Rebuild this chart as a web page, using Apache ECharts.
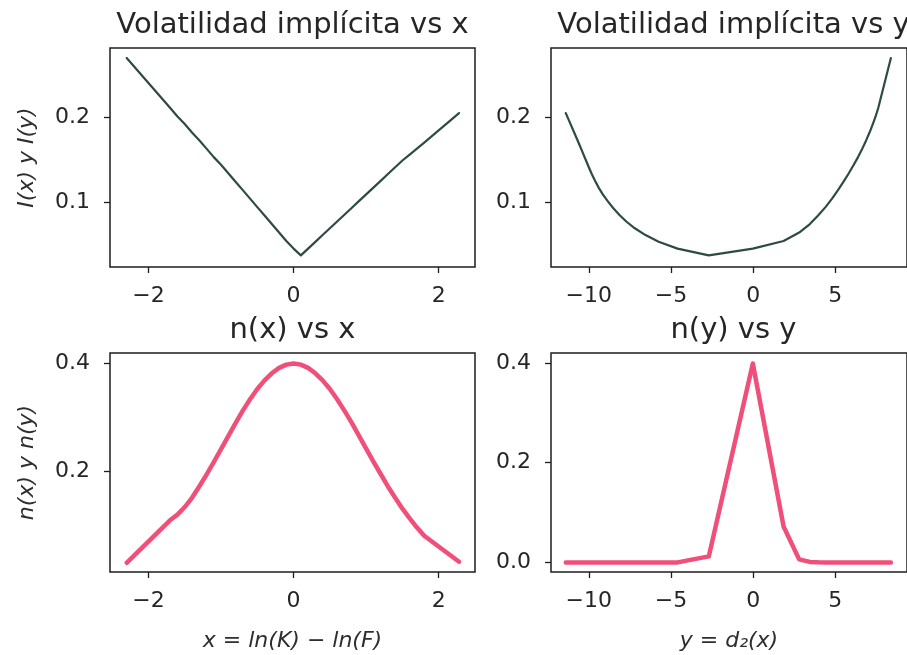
<!DOCTYPE html>
<html>
<head>
<meta charset="utf-8">
<script src="https://cdn.jsdelivr.net/npm/echarts@6/dist/echarts.min.js"></script>
<style>
  html, body { margin: 0; padding: 0; background: #ffffff; }
  #chart { width: 907px; height: 655px; }
</style>
</head>
<body>
<div id="chart"></div>
<script>
// x = ln(K) - ln(F)
const logMoneyness = [
  -2.30, -1.70, -1.60, -1.50, -1.40, -1.30, -1.20, -1.10, -1.00, -0.90,
  -0.80, -0.70, -0.60, -0.50, -0.40, -0.30, -0.20, -0.10, 0.00, 0.10,
  0.20, 0.30, 0.40, 0.50, 0.60, 0.70, 0.80, 0.90, 1.00, 1.10,
  1.20, 1.30, 1.40, 1.50, 1.60, 1.70, 1.80, 2.28
];

// implied volatility I(x)
const impliedVol = [
  0.270, 0.211, 0.201, 0.192, 0.182, 0.173, 0.163, 0.153, 0.144, 0.134,
  0.124, 0.114, 0.104, 0.094, 0.084, 0.074, 0.064, 0.054, 0.045, 0.037,
  0.045, 0.053, 0.061, 0.069, 0.077, 0.085, 0.093, 0.101, 0.109, 0.117,
  0.125, 0.133, 0.141, 0.149, 0.156, 0.163, 0.170, 0.205
];

// y = d2(x)
const d2Values = [
  8.38, 7.61, 7.45, 7.28, 7.08, 6.88, 6.64, 6.38, 6.12, 5.82,
  5.50, 5.16, 4.80, 4.40, 3.95, 3.45, 2.80, 1.85, -0.02, -2.70,
  -4.60, -5.75, -6.55, -7.20, -7.72, -8.15, -8.52, -8.85, -9.15, -9.40,
  -9.62, -9.82, -10.00, -10.17, -10.32, -10.47, -10.62, -11.40
];

// n(x)
const densityX = [
  0.031, 0.110, 0.120, 0.134, 0.151, 0.172, 0.194, 0.217, 0.241, 0.265,
  0.289, 0.312, 0.333, 0.352, 0.368, 0.381, 0.391, 0.397, 0.399, 0.397,
  0.391, 0.381, 0.368, 0.352, 0.333, 0.312, 0.290, 0.266, 0.242, 0.218,
  0.195, 0.172, 0.151, 0.131, 0.113, 0.096, 0.081, 0.033
];

// n(y)
const densityY = [
  0.000, 0.000, 0.000, 0.000, 0.000, 0.000, 0.000, 0.000, 0.000, 0.000,
  0.000, 0.000, 0.000, 0.000, 0.0002, 0.001, 0.006, 0.072, 0.399, 0.012,
  0.000, 0.000, 0.000, 0.000, 0.000, 0.000, 0.000, 0.000, 0.000, 0.000,
  0.000, 0.000, 0.000, 0.000, 0.000, 0.000, 0.000, 0.000
];

// tick positions
const xTicks = [-2, 0, 2];
const yTicks = [-10, -5, 0, 5];
const volTicks = [0.1, 0.2];
const densXTicks = [0.2, 0.4];
const densYTicks = [0.0, 0.2, 0.4];

const FONT = 'DejaVu Sans';
const INK = '#262626';
const SPINE = '#1e1e1e';

function zip(a, b) { return a.map((v, i) => [v, b[i]]); }
function intLabel(v) { return v < 0 ? '\u2212' + Math.abs(v) : String(v); }
function decLabel(v) { return v.toFixed(1); }

function makeGrid(left, top) {
  return {
    show: true, left: left, top: top, width: 365, height: 219,
    backgroundColor: '#ffffff', borderColor: SPINE, borderWidth: 1.5
  };
}

function makeAxis(kind, gridIndex, min, max, ticks, fmt, name, nameGap) {
  const ax = {
    type: 'value', gridIndex: gridIndex, min: min, max: max, scale: true,
    axisLine: { show: false, onZero: false },
    axisTick: { show: true, length: 6, lineStyle: { color: SPINE, width: 1.3 }, customValues: ticks },
    axisLabel: {
      customValues: ticks, formatter: fmt, color: INK, fontFamily: FONT, fontSize: 22,
      margin: kind === 'x' ? 18 : 20
    },
    splitLine: { show: false }
  };
  if (name) {
    ax.name = name;
    ax.nameLocation = 'middle';
    ax.nameGap = nameGap;
    ax.nameTextStyle = { fontFamily: FONT, fontSize: 22, fontStyle: 'italic', color: '#2e2e2e' };
  }
  return ax;
}

function lineSeries(idx, data, color, width) {
  return {
    type: 'line', xAxisIndex: idx, yAxisIndex: idx, data: data,
    showSymbol: false, symbol: 'none', smooth: false, silent: true, animation: false,
    lineStyle: { color: color, width: width, cap: 'round', join: 'round' }
  };
}

function makeTitle(text, cx, top) {
  return {
    text: text, left: cx, top: top, textAlign: 'center', padding: 0,
    textStyle: { fontFamily: FONT, fontSize: 29, fontWeight: 'normal', color: INK }
  };
}

const chart = echarts.init(document.getElementById('chart'), null, { renderer: 'canvas' });

chart.setOption({
  animation: false,
  backgroundColor: '#ffffff',
  title: [
    makeTitle('Volatilidad implícita vs x', 292.5, 11),
    makeTitle('Volatilidad implícita vs y', 733.5, 11),
    makeTitle('n(x) vs x', 292.5, 316),
    makeTitle('n(y) vs y', 733.5, 316)
  ],
  grid: [makeGrid(110, 48), makeGrid(551, 48), makeGrid(110, 353), makeGrid(551, 353)],
  xAxis: [
    makeAxis('x', 0, -2.53, 2.50, xTicks, intLabel),
    makeAxis('x', 1, -12.30, 9.36, yTicks, intLabel),
    makeAxis('x', 2, -2.53, 2.50, xTicks, intLabel, 'x = ln(K) \u2212 ln(F)', 58),
    makeAxis('x', 3, -12.30, 9.36, yTicks, intLabel, 'y = d\u2082(x)', 58)
  ],
  yAxis: [
    makeAxis('y', 0, 0.0233, 0.2818, volTicks, decLabel, 'I(x) y I(y)', 72),
    makeAxis('y', 1, 0.0233, 0.2818, volTicks, decLabel),
    makeAxis('y', 2, 0.014, 0.4185, densXTicks, decLabel, 'n(x) y n(y)', 72),
    makeAxis('y', 3, -0.0193, 0.42, densYTicks, decLabel)
  ],
  series: [
    lineSeries(0, zip(logMoneyness, impliedVol), '#2f4a45', 2.2),
    lineSeries(1, zip(d2Values, impliedVol), '#2f4a45', 2.2),
    lineSeries(2, zip(logMoneyness, densityX), '#ef4f78', 4.5),
    lineSeries(3, zip(d2Values, densityY), '#ef4f78', 4.5)
  ]
});
</script>
</body>
</html>
